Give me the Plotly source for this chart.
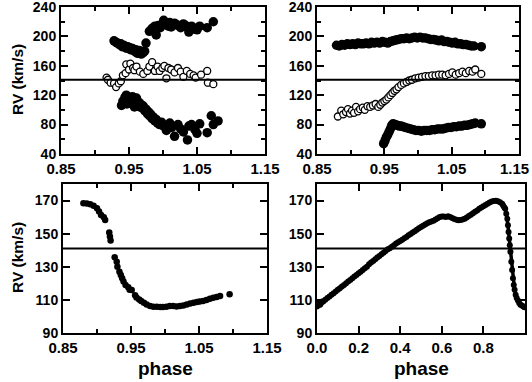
import plotly.graph_objects as go

gamma = 141

# top left panel (three velocity components)
tl_ph_a = [0.928,0.931,0.933,0.936,0.938,0.940,0.942,0.944,0.946,0.948,0.950,0.952,0.954,0.956,0.958,0.960,0.961,0.963,0.965,0.966,
           0.968,0.969,0.971,0.973,0.975,0.980,0.984,0.988,0.990,0.993,0.996,0.998,1.001,1.005,1.008,1.010,1.012,1.017,1.020,1.022,
           1.026,1.030,1.033,1.035,1.038,1.042,1.045,1.047,1.050,1.054,1.065,1.074]
tl_rv_a = [194,192,191,189,190,186,188,187,184,186,185,182,184,183,180,182,178,177,181,180,
           176,179,178,180,191,207,211,214,202,215,212,216,222,216,214,219,213,218,216,215,
           212,217,215,213,206,214,210,211,209,214,212,220]
tl_ph_b = [0.917,0.919,0.923,0.928,0.931,0.935,0.938,0.941,0.945,0.946,0.950,0.952,0.956,0.958,0.961,0.966,0.971,0.977,0.980,0.984,
           0.988,0.992,0.995,0.999,1.002,1.005,1.008,1.012,1.017,1.022,1.026,1.030,1.035,1.040,1.045,1.048,1.056,1.065,1.066,1.074]
tl_rv_b = [144,141,137,136,131,136,139,147,150,162,155,163,157,154,159,152,149,153,159,165,
           153,159,153,157,160,143,157,155,151,157,152,145,153,149,147,144,148,153,137,135]
tl_ph_c = [0.939,0.941,0.943,0.944,0.946,0.947,0.949,0.951,0.953,0.955,0.956,0.958,0.960,0.961,0.963,0.965,0.966,0.968,0.969,0.971,
           0.973,0.975,0.977,0.979,0.980,0.982,0.984,0.986,0.988,0.990,0.992,0.995,0.998,1.001,1.005,1.010,1.013,1.017,1.022,1.026,
           1.030,1.036,1.038,1.042,1.047,1.050,1.054,1.065,1.071,1.074,1.081]
tl_rv_c = [106,112,110,117,120,108,114,115,112,118,117,104,112,116,108,110,104,107,103,105,
           99,101,95,97,92,94,88,90,85,87,82,80,83,78,72,82,76,64,80,74,
           70,59,78,80,73,68,81,69,92,80,85]

# top right panel
tr_ph_a = [0.879,0.883,0.887,0.891,0.895,0.899,0.903,0.907,0.911,0.915,0.919,0.923,0.927,0.931,0.935,0.939,0.943,0.947,0.951,0.955,
           0.959,0.963,0.967,0.971,0.975,0.979,0.983,0.987,0.991,0.995,0.999,1.003,1.007,1.011,1.015,1.019,1.023,1.027,1.031,1.035,
           1.039,1.043,1.047,1.051,1.055,1.059,1.063,1.067,1.071,1.075,1.079,1.083,1.094]
tr_rv_a = [188,187,189,188,190,189,190,189,191,190,190,191,190,192,191,192,191,193,192,191,
           193,194,195,196,197,197,198,197,198,199,198,199,198,198,197,196,196,195,194,195,
           193,193,192,191,192,190,190,189,189,188,187,187,186]
tr_ph_b = [0.881,0.886,0.889,0.893,0.896,0.899,0.902,0.905,0.908,0.911,0.914,0.918,0.921,0.925,0.929,0.933,0.937,0.941,0.944,0.947,
           0.950,0.953,0.956,0.959,0.962,0.965,0.968,0.971,0.975,0.979,0.983,0.987,0.991,0.996,1.001,1.006,1.011,1.016,1.021,1.026,
           1.031,1.036,1.041,1.046,1.051,1.056,1.061,1.066,1.071,1.076,1.081,1.085,1.094]
tr_rv_b = [91,99,94,97,101,95,99,96,104,98,101,103,100,105,104,106,108,104,107,110,
           112,114,117,120,123,126,128,131,134,136,138,140,141,143,144,145,146,146,147,147,
           148,148,147,149,151,148,150,152,150,153,152,155,149]
tr_ph_c = [0.949,0.951,0.953,0.955,0.957,0.959,0.961,0.963,0.966,0.969,0.972,0.975,0.978,0.981,0.985,0.989,0.993,0.997,1.001,1.005,
           1.009,1.013,1.017,1.021,1.025,1.029,1.033,1.037,1.041,1.045,1.049,1.053,1.057,1.061,1.065,1.069,1.073,1.077,1.081,1.085,1.094]
tr_rv_c = [54,58,63,66,70,74,79,81,80,79,78,78,77,76,75,74,73,72,72,71,
           72,72,72,73,73,74,74,74,75,76,76,77,77,78,78,79,79,80,81,82,81]

# bottom left panel
bl_ph = [0.880,0.885,0.890,0.895,0.900,0.903,0.906,0.910,0.912,0.918,0.919,0.920,0.926,0.929,0.930,0.933,0.935,0.937,0.939,0.942,
         0.946,0.948,0.951,0.956,0.958,0.962,0.965,0.969,0.973,0.978,0.983,0.988,0.993,0.997,1.002,1.007,1.012,1.017,1.022,1.027,
         1.032,1.037,1.042,1.047,1.051,1.056,1.061,1.066,1.071,1.076,1.081,1.095]
bl_rv = [168.4,168.2,167.8,166.8,165.4,163.3,161.3,159.9,158.3,150.6,148.2,145.8,135.7,133,130,127,125,123,121,119,
         117.5,116,115.9,112.8,111.4,110.2,109.2,108.2,107.2,106.2,105.8,105.8,105.6,105.6,105.8,106.2,106.2,106,106.2,106.6,
         107.2,107.8,108.2,108.6,109,109.2,109.8,110.6,111.2,111.6,112.2,113.4]

# bottom right panel (full cycle)
br_ph = [0.000,0.005,0.010,0.015,0.020,0.025,0.030,0.040,0.050,0.060,0.070,0.080,0.090,0.100,0.110,0.120,0.130,0.140,0.150,0.160,
         0.170,0.180,0.190,0.200,0.210,0.220,0.230,0.240,0.250,0.260,0.270,0.280,0.290,0.300,0.310,0.320,0.330,0.340,0.350,0.360,
         0.370,0.380,0.390,0.400,0.410,0.420,0.430,0.440,0.450,0.460,0.470,0.480,0.490,0.500,0.510,0.520,0.530,0.540,0.550,0.560,
         0.570,0.580,0.590,0.600,0.610,0.620,0.630,0.640,0.650,0.660,0.670,0.680,0.690,0.700,0.710,0.720,0.730,0.740,0.750,0.760,
         0.770,0.780,0.790,0.800,0.810,0.820,0.830,0.840,0.850,0.860,0.870,0.880,0.890,0.895,0.900,0.905,0.910,0.915,0.918,0.921,
         0.924,0.927,0.930,0.934,0.938,0.942,0.946,0.950,0.955,0.960,0.966,0.972,0.978,0.985,0.992,0.998]
br_rv = [106,107,108,107,108,109,109,110,111,112,113,114,115,116,117,118,119,120,121,122,
         123,124,125,126,127,128,129,130,131.5,132.5,133.5,134.5,135.5,136.5,137.5,138.5,139.5,140.5,141.2,142,
         143,144,144.8,145.5,146.3,147.2,148,149,149.8,150.7,151.5,152.4,153.2,154,154.8,155.5,156.2,156.8,157.3,157.8,
         158.5,159.3,160,160.4,160.3,160,160.5,160.1,159.5,158.9,158.4,158.1,158.2,158.5,159,159.8,160.6,161.4,162.3,163.2,
         164,165,165.8,166.5,167.3,168,168.8,169.4,169.7,169.8,169.5,169,168,167,166,165,162,159,155,151,
         147,143,139,133,128,123,119,116,113,111,109.5,108,107,106.5,106,105.5]

phase_ticks = [0.85, 0.95, 1.05, 1.15]
cycle_ticks = [0, 0.2, 0.4, 0.6, 0.8]

W, H = 532, 382
def px_x(a, b):
    return [a / W, b / W]
def px_y(top, bot):
    return [1 - bot / H, 1 - top / H]

bold = dict(family="Liberation Sans, Arial, sans-serif", color="black", weight="bold")
filled = dict(color="black", size=9.5)
opened = dict(color="white", size=7, line=dict(color="black", width=1.3))

fig = go.Figure()
fig.add_trace(go.Scatter(x=tl_ph_a, y=tl_rv_a, mode="markers", marker=filled, xaxis="x", yaxis="y"))
fig.add_trace(go.Scatter(x=tl_ph_b, y=tl_rv_b, mode="markers", marker=opened, xaxis="x", yaxis="y"))
fig.add_trace(go.Scatter(x=tl_ph_c, y=tl_rv_c, mode="markers", marker=filled, xaxis="x", yaxis="y"))
fig.add_trace(go.Scatter(x=tr_ph_a, y=tr_rv_a, mode="markers", marker=filled, xaxis="x2", yaxis="y2"))
fig.add_trace(go.Scatter(x=tr_ph_b, y=tr_rv_b, mode="markers", marker=opened, xaxis="x2", yaxis="y2"))
fig.add_trace(go.Scatter(x=tr_ph_c, y=tr_rv_c, mode="markers", marker=filled, xaxis="x2", yaxis="y2"))
fig.add_trace(go.Scatter(x=bl_ph, y=bl_rv, mode="markers", marker=dict(color="black", size=6.5), xaxis="x3", yaxis="y3"))
fig.add_trace(go.Scatter(x=br_ph, y=br_rv, mode="lines+markers", line=dict(color="black", width=3.5),
                         marker=dict(color="black", size=6), xaxis="x4", yaxis="y4"))

def xax(dom, anchor, rng, vals, texts):
    d = dict(domain=dom, anchor=anchor, range=rng, showgrid=False, zeroline=False, automargin=False,
             showline=True, linecolor="black", linewidth=2, mirror="ticks",
             ticks="inside", ticklen=7, tickwidth=2, tickcolor="black",
             ticklabeloverflow="allow", tickfont=dict(size=15, **bold),
             tickvals=vals, ticktext=texts)
    if rng[0] > 0.5:
        d["minor"] = dict(ticks="inside", tick0=0.85, dtick=0.05, ticklen=4, tickwidth=2, tickcolor="black")
    return d

def yax(dom, anchor, rng, t0, dt, minor=None):
    d = dict(domain=dom, anchor=anchor, range=rng, showgrid=False, zeroline=False, automargin=False,
             showline=True, linecolor="black", linewidth=2, mirror="ticks",
             ticks="inside", ticklen=7, tickwidth=2, tickcolor="black",
             ticklabeloverflow="allow", tick0=t0, dtick=dt, tickfont=dict(size=14, **bold))
    if minor:
        d["minor"] = dict(ticks="inside", tick0=t0, dtick=minor, ticklen=4, tickwidth=2, tickcolor="black")
    return d

ph_text = ["%.2f" % v for v in phase_ticks]
# right panel: last label is placed by hand so it stays inside the page
tr_text = ph_text[:-1] + [""]
cy_text = ["%.1f" % v for v in cycle_ticks]

fig.update_layout(
    width=W, height=H, margin=dict(l=0, r=0, t=0, b=0),
    paper_bgcolor="white", plot_bgcolor="white", showlegend=False,
    xaxis=xax(px_x(61, 265), "y", [0.85, 1.15], phase_ticks, ph_text),
    yaxis=yax(px_y(7, 154), "x", [39.9, 240.1], 40, 40, 20),
    xaxis2=xax(px_x(317, 519), "y2", [0.85, 1.15], phase_ticks, tr_text),
    yaxis2=yax(px_y(7, 154), "x2", [39.9, 240.1], 40, 40, 20),
    xaxis3=xax(px_x(63, 267), "y3", [0.85, 1.15], phase_ticks, ph_text),
    yaxis3=yax(px_y(184, 333), "x3", [89.9, 180], 90, 20),
    xaxis4=xax(px_x(317, 525), "y4", [0, 1.0], cycle_ticks, cy_text),
    yaxis4=yax(px_y(184, 333), "x4", [89.9, 180], 90, 20),
)

for ax in ["", "2", "3", "4"]:
    fig.add_shape(type="line", xref="x" + ax + " domain", yref="y" + ax,
                  x0=0, x1=1, y0=gamma, y1=gamma, line=dict(color="black", width=2))

fig.add_annotation(x=531 / W, y=1 - 168 / H, xref="paper", yref="paper", xanchor="right", yanchor="middle",
                   text=ph_text[-1], showarrow=False, font=dict(size=15, **bold))
for yc in [80, 258]:
    fig.add_annotation(x=17 / W, y=1 - yc / H, xref="paper", yref="paper", xanchor="center", yanchor="middle",
                       text="RV (km/s)", textangle=-90, showarrow=False, font=dict(size=15.5, **bold))
for xc in [165, 421]:
    fig.add_annotation(x=xc / W, y=1 - 368 / H, xref="paper", yref="paper", xanchor="center", yanchor="middle",
                       text="phase", showarrow=False, font=dict(size=19, **bold))

fig.write_html("out.html", config={"displayModeBar": False},
               post_script="document.body.style.margin='0';")
